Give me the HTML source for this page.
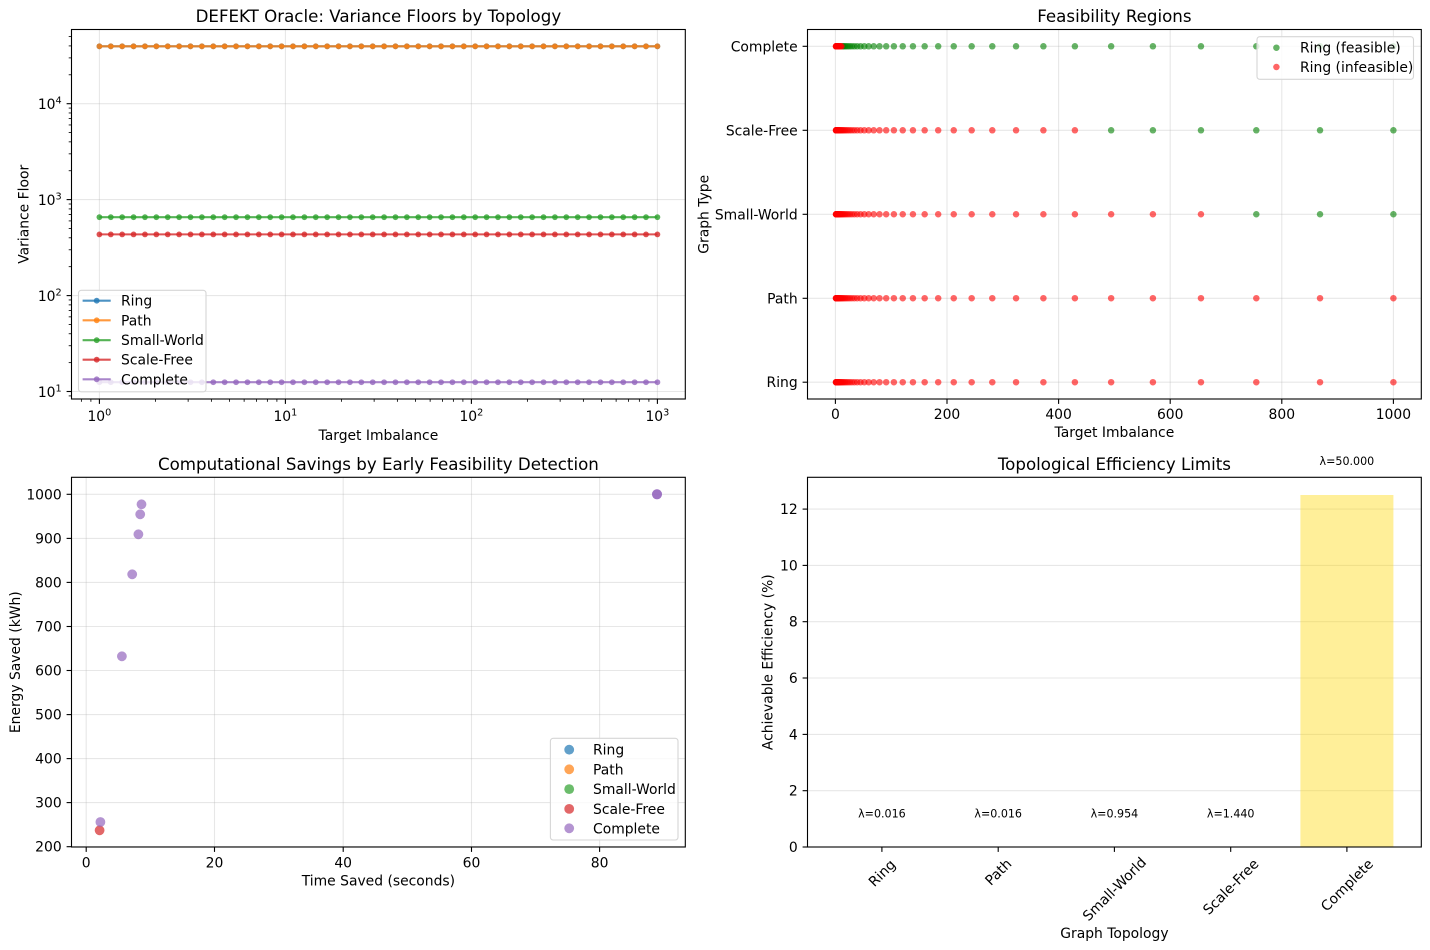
<!DOCTYPE html>
<html><head><meta charset="utf-8"><style>
html,body{margin:0;padding:0;background:#fff;}
svg{display:block;font-family:"DejaVu Sans","Liberation Sans",sans-serif;}
.t{font-size:13.9px;fill:#000}
.ti{font-size:16.67px;fill:#000}
.sm{font-size:11.1px;fill:#000}
.grid{stroke:#b0b0b0;stroke-opacity:0.3;stroke-width:1.1}
.sp{fill:none;stroke:#000;stroke-width:1.1}
.tk{stroke:#000;stroke-width:1.1}
.lg{fill:#fff;fill-opacity:0.8;stroke:#d6d6d6;stroke-width:1.1}
</style></head><body>
<svg id="c" width="1430" height="950" viewBox="0 0 1430 950" xmlns="http://www.w3.org/2000/svg">
<rect x="0" y="0" width="1430" height="950" fill="#fff"/>

<!-- ============ PLOT 1 ============ -->
<g>
<line class="grid" x1="99.4" x2="99.4" y1="29.5" y2="399"/>
<line class="grid" x1="285.4" x2="285.4" y1="29.5" y2="399"/>
<line class="grid" x1="471.4" x2="471.4" y1="29.5" y2="399"/>
<line class="grid" x1="657.4" x2="657.4" y1="29.5" y2="399"/>
<line class="grid" x1="71.5" x2="685.3" y1="391.5" y2="391.5"/>
<line class="grid" x1="71.5" x2="685.3" y1="295.6" y2="295.6"/>
<line class="grid" x1="71.5" x2="685.3" y1="199.6" y2="199.6"/>
<line class="grid" x1="71.5" x2="685.3" y1="103.7" y2="103.7"/>
</g>
<g id="g1"></g>
<g id="m1"></g>
<rect class="sp" x="71.5" y="29.5" width="613.8" height="369.5"/>
<g>
<line class="tk" x1="99.4" x2="99.4" y1="399" y2="403.9"/>
<line class="tk" x1="285.4" x2="285.4" y1="399" y2="403.9"/>
<line class="tk" x1="471.4" x2="471.4" y1="399" y2="403.9"/>
<line class="tk" x1="657.4" x2="657.4" y1="399" y2="403.9"/>
<line class="tk" x1="71.5" x2="66.6" y1="391.5" y2="391.5"/>
<line class="tk" x1="71.5" x2="66.6" y1="295.6" y2="295.6"/>
<line class="tk" x1="71.5" x2="66.6" y1="199.6" y2="199.6"/>
<line class="tk" x1="71.5" x2="66.6" y1="103.7" y2="103.7"/>
</g>
<text class="t" x="99.4" y="421" text-anchor="middle">10<tspan font-size="9.7" dy="-5.5">0</tspan></text>
<text class="t" x="285.4" y="421" text-anchor="middle">10<tspan font-size="9.7" dy="-5.5">1</tspan></text>
<text class="t" x="471.4" y="421" text-anchor="middle">10<tspan font-size="9.7" dy="-5.5">2</tspan></text>
<text class="t" x="657.4" y="421" text-anchor="middle">10<tspan font-size="9.7" dy="-5.5">3</tspan></text>
<text class="t" x="61.7" y="397" text-anchor="end">10<tspan font-size="9.7" dy="-5.5">1</tspan></text>
<text class="t" x="61.7" y="301" text-anchor="end">10<tspan font-size="9.7" dy="-5.5">2</tspan></text>
<text class="t" x="61.7" y="205" text-anchor="end">10<tspan font-size="9.7" dy="-5.5">3</tspan></text>
<text class="t" x="61.7" y="109" text-anchor="end">10<tspan font-size="9.7" dy="-5.5">4</tspan></text>
<text class="ti" x="378.4" y="22" text-anchor="middle">DEFEKT Oracle: Variance Floors by Topology</text>
<text class="t" x="378.4" y="440" text-anchor="middle">Target Imbalance</text>
<text class="t" transform="translate(28.5,214.3) rotate(-90)" text-anchor="middle">Variance Floor</text>
<!-- legend 1 -->
<rect class="lg" x="78.5" y="290.3" width="127.5" height="101.5" rx="2.8"/>
<g id="lg1"></g>
<text class="t" x="121" y="305.7">Ring</text>
<text class="t" x="121" y="325.3">Path</text>
<text class="t" x="121" y="345.2">Small-World</text>
<text class="t" x="121" y="364.7">Scale-Free</text>
<text class="t" x="121" y="384.3">Complete</text>

<!-- ============ PLOT 2 ============ -->
<g>
<line class="grid" x1="835.4" x2="835.4" y1="29.5" y2="399"/>
<line class="grid" x1="947" x2="947" y1="29.5" y2="399"/>
<line class="grid" x1="1058.6" x2="1058.6" y1="29.5" y2="399"/>
<line class="grid" x1="1170.2" x2="1170.2" y1="29.5" y2="399"/>
<line class="grid" x1="1281.8" x2="1281.8" y1="29.5" y2="399"/>
<line class="grid" x1="1393.4" x2="1393.4" y1="29.5" y2="399"/>
<line class="grid" x1="807.5" x2="1421.3" y1="382.2" y2="382.2"/>
<line class="grid" x1="807.5" x2="1421.3" y1="298.3" y2="298.3"/>
<line class="grid" x1="807.5" x2="1421.3" y1="214.3" y2="214.3"/>
<line class="grid" x1="807.5" x2="1421.3" y1="130.3" y2="130.3"/>
<line class="grid" x1="807.5" x2="1421.3" y1="46.3" y2="46.3"/>
</g>
<g id="g2"></g>
<rect class="sp" x="807.5" y="29.5" width="613.8" height="369.5"/>
<g>
<line class="tk" x1="835.4" x2="835.4" y1="399" y2="403.9"/>
<line class="tk" x1="947" x2="947" y1="399" y2="403.9"/>
<line class="tk" x1="1058.6" x2="1058.6" y1="399" y2="403.9"/>
<line class="tk" x1="1170.2" x2="1170.2" y1="399" y2="403.9"/>
<line class="tk" x1="1281.8" x2="1281.8" y1="399" y2="403.9"/>
<line class="tk" x1="1393.4" x2="1393.4" y1="399" y2="403.9"/>
<line class="tk" x1="807.5" x2="802.6" y1="382.2" y2="382.2"/>
<line class="tk" x1="807.5" x2="802.6" y1="298.3" y2="298.3"/>
<line class="tk" x1="807.5" x2="802.6" y1="214.3" y2="214.3"/>
<line class="tk" x1="807.5" x2="802.6" y1="130.3" y2="130.3"/>
<line class="tk" x1="807.5" x2="802.6" y1="46.3" y2="46.3"/>
</g>
<text class="t" x="835.4" y="419" text-anchor="middle">0</text>
<text class="t" x="947" y="419" text-anchor="middle">200</text>
<text class="t" x="1058.6" y="419" text-anchor="middle">400</text>
<text class="t" x="1170.2" y="419" text-anchor="middle">600</text>
<text class="t" x="1281.8" y="419" text-anchor="middle">800</text>
<text class="t" x="1393.4" y="419" text-anchor="middle">1000</text>
<text class="t" x="797.7" y="387.2" text-anchor="end">Ring</text>
<text class="t" x="797.7" y="303.3" text-anchor="end">Path</text>
<text class="t" x="797.7" y="219.3" text-anchor="end">Small-World</text>
<text class="t" x="797.7" y="135.3" text-anchor="end">Scale-Free</text>
<text class="t" x="797.7" y="51.3" text-anchor="end">Complete</text>
<text class="ti" x="1114.4" y="22" text-anchor="middle">Feasibility Regions</text>
<text class="t" x="1114.4" y="437" text-anchor="middle">Target Imbalance</text>
<text class="t" transform="translate(708.5,214.3) rotate(-90)" text-anchor="middle">Graph Type</text>
<rect class="lg" x="1257" y="36.7" width="156.5" height="42.6" rx="2.8"/>
<circle cx="1276.4" cy="47.7" r="3.25" fill="#008000" fill-opacity="0.6"/>
<circle cx="1276.4" cy="67" r="3.25" fill="#ff0000" fill-opacity="0.6"/>
<text class="t" x="1300" y="52.7">Ring (feasible)</text>
<text class="t" x="1300" y="72">Ring (infeasible)</text>

<!-- ============ PLOT 3 ============ -->
<g>
<line class="grid" x1="86.2" x2="86.2" y1="477.3" y2="847"/>
<line class="grid" x1="214.5" x2="214.5" y1="477.3" y2="847"/>
<line class="grid" x1="343.2" x2="343.2" y1="477.3" y2="847"/>
<line class="grid" x1="471.5" x2="471.5" y1="477.3" y2="847"/>
<line class="grid" x1="599.6" x2="599.6" y1="477.3" y2="847"/>
<line class="grid" x1="71.5" x2="685.3" y1="846.7" y2="846.7"/>
<line class="grid" x1="71.5" x2="685.3" y1="802.6" y2="802.6"/>
<line class="grid" x1="71.5" x2="685.3" y1="758.6" y2="758.6"/>
<line class="grid" x1="71.5" x2="685.3" y1="714.6" y2="714.6"/>
<line class="grid" x1="71.5" x2="685.3" y1="670.5" y2="670.5"/>
<line class="grid" x1="71.5" x2="685.3" y1="626.5" y2="626.5"/>
<line class="grid" x1="71.5" x2="685.3" y1="582.4" y2="582.4"/>
<line class="grid" x1="71.5" x2="685.3" y1="538.4" y2="538.4"/>
<line class="grid" x1="71.5" x2="685.3" y1="494.3" y2="494.3"/>
</g>
<g id="g3">
<circle cx="99.6" cy="830.3" r="4.9" fill="#d62728" fill-opacity="0.7"/>
<circle cx="100.4" cy="822" r="4.9" fill="#9467bd" fill-opacity="0.7"/>
<circle cx="121.9" cy="656.3" r="4.9" fill="#9467bd" fill-opacity="0.7"/>
<circle cx="132.2" cy="574.3" r="4.9" fill="#9467bd" fill-opacity="0.7"/>
<circle cx="138.4" cy="534.3" r="4.9" fill="#9467bd" fill-opacity="0.7"/>
<circle cx="140.2" cy="514.3" r="4.9" fill="#9467bd" fill-opacity="0.7"/>
<circle cx="141.5" cy="504.3" r="4.9" fill="#9467bd" fill-opacity="0.7"/>
<circle cx="657" cy="494.3" r="5" fill="#9467bd" fill-opacity="0.7"/>
<circle cx="657" cy="494.3" r="5" fill="#9467bd" fill-opacity="0.7"/>
</g>
<rect class="sp" x="71.5" y="477.3" width="613.8" height="369.7"/>
<g>
<line class="tk" x1="86.2" x2="86.2" y1="847" y2="851.9"/>
<line class="tk" x1="214.5" x2="214.5" y1="847" y2="851.9"/>
<line class="tk" x1="343.2" x2="343.2" y1="847" y2="851.9"/>
<line class="tk" x1="471.5" x2="471.5" y1="847" y2="851.9"/>
<line class="tk" x1="599.6" x2="599.6" y1="847" y2="851.9"/>
<line class="tk" x1="71.5" x2="66.6" y1="846.7" y2="846.7"/>
<line class="tk" x1="71.5" x2="66.6" y1="802.6" y2="802.6"/>
<line class="tk" x1="71.5" x2="66.6" y1="758.6" y2="758.6"/>
<line class="tk" x1="71.5" x2="66.6" y1="714.6" y2="714.6"/>
<line class="tk" x1="71.5" x2="66.6" y1="670.5" y2="670.5"/>
<line class="tk" x1="71.5" x2="66.6" y1="626.5" y2="626.5"/>
<line class="tk" x1="71.5" x2="66.6" y1="582.4" y2="582.4"/>
<line class="tk" x1="71.5" x2="66.6" y1="538.4" y2="538.4"/>
<line class="tk" x1="71.5" x2="66.6" y1="494.3" y2="494.3"/>
</g>
<text class="t" x="86.2" y="867.5" text-anchor="middle">0</text>
<text class="t" x="214.5" y="867.5" text-anchor="middle">20</text>
<text class="t" x="343.2" y="867.5" text-anchor="middle">40</text>
<text class="t" x="471.5" y="867.5" text-anchor="middle">60</text>
<text class="t" x="599.6" y="867.5" text-anchor="middle">80</text>
<text class="t" x="61.7" y="851.7" text-anchor="end">200</text>
<text class="t" x="61.7" y="807.6" text-anchor="end">300</text>
<text class="t" x="61.7" y="763.6" text-anchor="end">400</text>
<text class="t" x="61.7" y="719.6" text-anchor="end">500</text>
<text class="t" x="61.7" y="675.5" text-anchor="end">600</text>
<text class="t" x="61.7" y="631.5" text-anchor="end">700</text>
<text class="t" x="61.7" y="587.4" text-anchor="end">800</text>
<text class="t" x="61.7" y="543.4" text-anchor="end">900</text>
<text class="t" x="61.7" y="499.3" text-anchor="end">1000</text>
<text class="ti" x="378.4" y="470" text-anchor="middle">Computational Savings by Early Feasibility Detection</text>
<text class="t" x="378.4" y="885.5" text-anchor="middle">Time Saved (seconds)</text>
<text class="t" transform="translate(20,662.2) rotate(-90)" text-anchor="middle">Energy Saved (kWh)</text>
<rect class="lg" x="550.4" y="738.3" width="127.6" height="101.7" rx="2.8"/>
<circle cx="569.2" cy="749.7" r="4.9" fill="#1f77b4" fill-opacity="0.7"/>
<circle cx="569.2" cy="769.3" r="4.9" fill="#ff7f0e" fill-opacity="0.7"/>
<circle cx="569.2" cy="789.1" r="4.9" fill="#2ca02c" fill-opacity="0.7"/>
<circle cx="569.2" cy="808.9" r="4.9" fill="#d62728" fill-opacity="0.7"/>
<circle cx="569.2" cy="828.3" r="4.9" fill="#9467bd" fill-opacity="0.7"/>
<text class="t" x="593" y="754.7">Ring</text>
<text class="t" x="593" y="774.3">Path</text>
<text class="t" x="593" y="794.1">Small-World</text>
<text class="t" x="593" y="813.9">Scale-Free</text>
<text class="t" x="593" y="833.3">Complete</text>

<!-- ============ PLOT 4 ============ -->
<g>
<line class="grid" x1="807.5" x2="1421.3" y1="847" y2="847"/>
<line class="grid" x1="807.5" x2="1421.3" y1="790.7" y2="790.7"/>
<line class="grid" x1="807.5" x2="1421.3" y1="734.4" y2="734.4"/>
<line class="grid" x1="807.5" x2="1421.3" y1="678" y2="678"/>
<line class="grid" x1="807.5" x2="1421.3" y1="621.7" y2="621.7"/>
<line class="grid" x1="807.5" x2="1421.3" y1="565.4" y2="565.4"/>
<line class="grid" x1="807.5" x2="1421.3" y1="509.1" y2="509.1"/>
</g>
<rect x="1300.4" y="495" width="93" height="352" fill="#ffd700" fill-opacity="0.4"/>
<rect class="sp" x="807.5" y="477.3" width="613.8" height="369.7"/>
<g>
<line class="tk" x1="881.9" x2="881.9" y1="847" y2="851.9"/>
<line class="tk" x1="998.2" x2="998.2" y1="847" y2="851.9"/>
<line class="tk" x1="1114.4" x2="1114.4" y1="847" y2="851.9"/>
<line class="tk" x1="1230.7" x2="1230.7" y1="847" y2="851.9"/>
<line class="tk" x1="1346.9" x2="1346.9" y1="847" y2="851.9"/>
<line class="tk" x1="807.5" x2="802.6" y1="847" y2="847"/>
<line class="tk" x1="807.5" x2="802.6" y1="790.7" y2="790.7"/>
<line class="tk" x1="807.5" x2="802.6" y1="734.4" y2="734.4"/>
<line class="tk" x1="807.5" x2="802.6" y1="678" y2="678"/>
<line class="tk" x1="807.5" x2="802.6" y1="621.7" y2="621.7"/>
<line class="tk" x1="807.5" x2="802.6" y1="565.4" y2="565.4"/>
<line class="tk" x1="807.5" x2="802.6" y1="509.1" y2="509.1"/>
</g>
<text class="t" x="797.7" y="852" text-anchor="end">0</text>
<text class="t" x="797.7" y="795.7" text-anchor="end">2</text>
<text class="t" x="797.7" y="739.4" text-anchor="end">4</text>
<text class="t" x="797.7" y="683" text-anchor="end">6</text>
<text class="t" x="797.7" y="626.7" text-anchor="end">8</text>
<text class="t" x="797.7" y="570.4" text-anchor="end">10</text>
<text class="t" x="797.7" y="514.1" text-anchor="end">12</text>
<text class="t" transform="translate(881.9,873) rotate(-45)" text-anchor="middle" dy="0.35em">Ring</text>
<text class="t" transform="translate(998.2,872) rotate(-45)" text-anchor="middle" dy="0.35em">Path</text>
<text class="t" transform="translate(1114.4,889) rotate(-45)" text-anchor="middle" dy="0.35em">Small-World</text>
<text class="t" transform="translate(1230.7,886.7) rotate(-45)" text-anchor="middle" dy="0.35em">Scale-Free</text>
<text class="t" transform="translate(1346.9,885) rotate(-45)" text-anchor="middle" dy="0.35em">Complete</text>
<text class="sm" x="881.9" y="817.3" text-anchor="middle">λ=0.016</text>
<text class="sm" x="998.2" y="817.3" text-anchor="middle">λ=0.016</text>
<text class="sm" x="1114.4" y="817.3" text-anchor="middle">λ=0.954</text>
<text class="sm" x="1230.7" y="817.3" text-anchor="middle">λ=1.440</text>
<text class="sm" x="1346.9" y="465" text-anchor="middle">λ=50.000</text>
<text class="ti" x="1114.4" y="470" text-anchor="middle">Topological Efficiency Limits</text>
<text class="t" x="1114.4" y="938" text-anchor="middle">Graph Topology</text>
<text class="t" transform="translate(772.5,662.2) rotate(-90)" text-anchor="middle">Achievable Efficiency (%)</text>
</svg>
<script>
(function(){
var NS='http://www.w3.org/2000/svg';
function el(p,tag,a){var e=document.createElementNS(NS,tag);for(var k in a)e.setAttribute(k,a[k]);p.appendChild(e);return e;}
var xs=[];for(var k=0;k<50;k++)xs.push(Math.pow(10,3*k/49));
var cols=['#1f77b4','#ff7f0e','#2ca02c','#d62728','#9467bd'];
var floors=[39630,39630,656,434.03,12.5];
// plot 1
var g1=document.getElementById('g1');
function x1(v){return 71.5+(Math.log10(v)+0.15)/3.3*613.8;}
function y1(v){return 399-(Math.log10(v)-0.922)/3.851*369.5;}
floors.forEach(function(f,i){
  var y=y1(f);
  el(g1,'line',{x1:x1(1),x2:x1(1000),y1:y,y2:y,stroke:cols[i],'stroke-opacity':0.8,'stroke-width':2.08});
  xs.forEach(function(v){el(g1,'circle',{cx:x1(v),cy:y,r:2.9,fill:cols[i],'fill-opacity':0.8});});
});
// minor ticks plot 1
var m1=document.getElementById('m1');
var lo=Math.pow(10,-0.15),hi=Math.pow(10,3.15);
for(var d=-1;d<=3;d++){for(var m=2;m<=9;m++){var v=m*Math.pow(10,d);if(v>lo&&v<hi){var x=x1(v);el(m1,'line',{x1:x,x2:x,y1:399,y2:401.8,stroke:'#000','stroke-width':0.83});}}}
var ylo=Math.pow(10,0.922),yhi=Math.pow(10,4.773);
for(var d=0;d<=4;d++){for(var m=2;m<=9;m++){var v=m*Math.pow(10,d);if(v>ylo&&v<yhi){var y=y1(v);el(m1,'line',{x1:71.5,x2:68.7,y1:y,y2:y,stroke:'#000','stroke-width':0.83});}}}
// legend 1 handles
var lg1=document.getElementById('lg1');
var ly=[300.7,320.3,340.2,359.7,379.3];
cols.forEach(function(c,i){
  el(lg1,'line',{x1:82.6,x2:110.7,y1:ly[i],y2:ly[i],stroke:c,'stroke-opacity':0.8,'stroke-width':2.08});
  el(lg1,'circle',{cx:96.7,cy:ly[i],r:2.9,fill:c,'fill-opacity':0.8});
});
// plot 2
var g2=document.getElementById('g2');
function x2(v){return 807.5+(v+50)/1100*613.8;}
function y2(i){return 399-(i+0.2)/4.4*369.5;}
floors.forEach(function(f,i){
  var y=y2(i);
  xs.forEach(function(v){if(v>=f)el(g2,'circle',{cx:x2(v),cy:y,r:3.25,fill:'#008000','fill-opacity':0.6});});
  xs.forEach(function(v){if(v<f)el(g2,'circle',{cx:x2(v),cy:y,r:3.25,fill:'#ff0000','fill-opacity':0.6});});
});
})();
</script>
</body></html>
